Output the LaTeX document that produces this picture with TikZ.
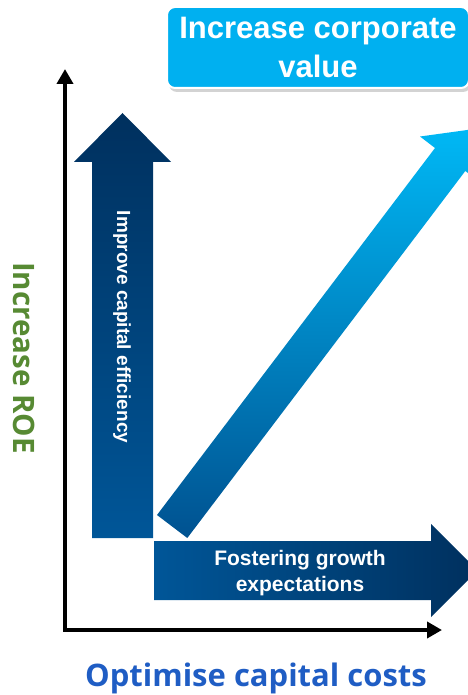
\documentclass[tikz,border=0pt]{standalone}
\usepackage{fontspec}
\setmainfont{Liberation Sans}
\newfontfamily\axisfont{Open Sans}
\usetikzlibrary{arrows.meta,shadows}
\definecolor{navy}{HTML}{00305E}
\definecolor{midblue}{HTML}{005698}
\definecolor{skyblue}{HTML}{00B8F5}
\definecolor{titlecyan}{HTML}{00B0F0}
\definecolor{roegreen}{HTML}{578A33}
\definecolor{costblue}{HTML}{1F5DC4}
\tikzset{
  axistip/.tip={Triangle[length=15pt,width=16pt]},
  bigarrow/.style={draw=none},
  arrowtext/.style={text=white, align=center},
  titlebox/.style={fill=titlecyan, draw=white, line width=2pt, rounded corners=8pt,
    minimum width=302pt, minimum height=81pt, text=white, align=center,
    font=\fontsize{31pt}{39pt}\bfseries\selectfont,
    drop shadow={shadow xshift=2pt, shadow yshift=-4pt, opacity=0.35, fill=gray}},
  axislabel/.style={font=\axisfont\bfseries\fontsize{31pt}{34pt}\selectfont}
}
\begin{document}
\begin{tikzpicture}[x=1pt,y=-1pt]
\useasboundingbox (0,0) rectangle (467,695);

% axes
\coordinate (ytop) at (65,69);
\coordinate (origin) at (65,630);
\coordinate (xend) at (442,630);
\draw[line width=4.6pt, axistip-axistip] (ytop) -- (origin) -- (xend);

% diagonal arrow towards corporate value
\shade[bigarrow, top color=skyblue, bottom color=midblue!95!black]
  (157,515) -- (435,148) -- (420,136.5) -- (473,129.2) -- (480.4,182.5)
  -- (465.3,171) -- (187.3,538) -- cycle;

% vertical arrow: capital efficiency
\shade[bigarrow, top color=navy, bottom color=midblue]
  (92,538) -- (92,162) -- (74,162) -- (122.5,113) -- (171,162) -- (153,162)
  -- (153,538) -- cycle;
\node[arrowtext, rotate=-90, font=\fontsize{19pt}{22pt}\bfseries\selectfont] (eff) at (122,327)
  {Improve capital efficiency};

% horizontal arrow: growth expectations
\shade[bigarrow, left color=midblue, right color=navy]
  (154,541) -- (431,541) -- (431,524) -- (477.5,570.5) -- (431,617) -- (431,600)
  -- (154,600) -- cycle;
\node[arrowtext, font=\fontsize{21pt}{26pt}\bfseries\selectfont] (growth) at (300,573)
  {Fostering growth\\expectations};

% goal box
\node[titlebox] (goal) at (318,47.5) {Increase corporate\\value};

% axis labels
\node[axislabel, text=roegreen, rotate=-90, font=\axisfont\bfseries\fontsize{29.5pt}{32pt}\selectfont]
  (roe) at (24,358) {Increase ROE};
\node[axislabel, text=costblue] (cost) at (256,678) {Optimise capital costs};
\end{tikzpicture}
\end{document}
